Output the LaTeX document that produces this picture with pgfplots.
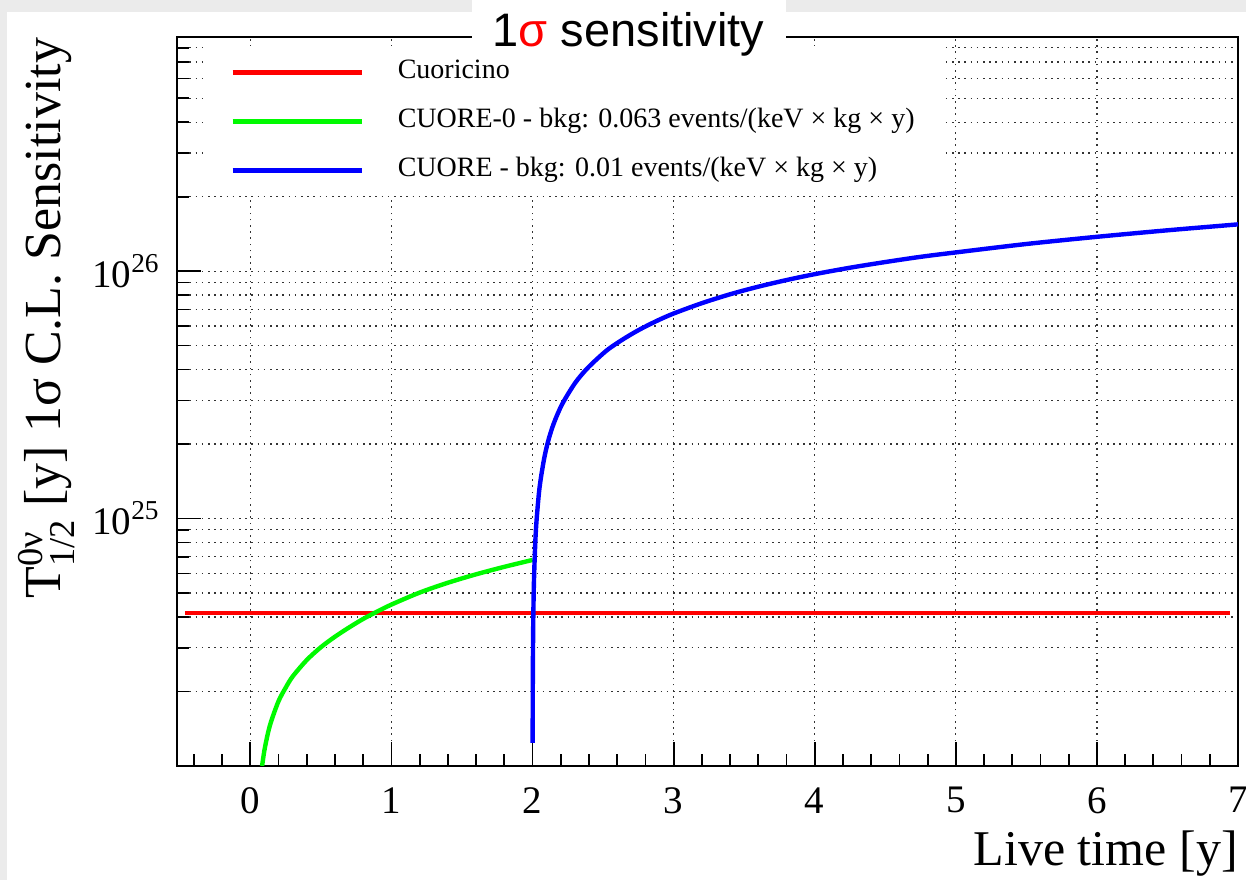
\documentclass[border=0pt]{standalone}
\usepackage{pgfplots}
\pgfplotsset{compat=1.18}
\usepackage{amsmath}
\usepackage{fontspec}
\setmainfont{Liberation Serif}
\newfontfamily\titlefont{Liberation Sans}
\definecolor{slidegray}{RGB}{235,235,235}
\definecolor{rootred}{RGB}{255,0,0}
\definecolor{rootgreen}{RGB}{0,250,0}
\definecolor{rootblue}{RGB}{0,0,255}

\begin{document}
\begin{tikzpicture}
% slide background
\fill[slidegray] (0,0) rectangle (623pt,440pt);
\fill[white] (3.5pt,0) rectangle (623pt,434pt);
\begin{axis}[
	at={(88.5pt,57pt)}, anchor=south west,
	width=530.5pt, height=364.25pt, scale only axis,
	ymode=log,
	xmin=-0.52, xmax=7, ymin=1e24, ymax=8.8e26,
	axis line style={line width=1pt},
	tick pos=left, tick align=inside,
	major tick length=12pt, minor tick length=6pt,
	every tick/.style={black, line width=0.9pt},
	xtick={0,1,2,3,4,5,6,7},
	minor xtick={-0.4,-0.2,0.2,0.4,0.6,0.8,1.2,1.4,1.6,1.8,2.2,2.4,2.6,2.8,3.2,3.4,3.6,3.8,4.2,4.4,4.6,4.8,5.2,5.4,5.6,5.8,6.2,6.4,6.6,6.8},
	ytick={1e24,1e25,1e26},
	yticklabels={,10\textsuperscript{25},10\textsuperscript{26}},
	minor ytick={2e24,3e24,4e24,5e24,6e24,7e24,8e24,9e24,2e25,3e25,4e25,5e25,6e25,7e25,8e25,9e25,2e26,3e26,4e26,5e26,6e26,7e26,8e26},
	xmajorgrids, ymajorgrids, yminorgrids,
	grid style={black!80, line width=0.6pt, dash pattern=on 0.8pt off 2.3pt},
	minor grid style={black!80, line width=0.6pt, dash pattern=on 0.8pt off 2.3pt},
	/pgf/number format/assume math mode=true,
	tick label style={font=\fontsize{19.5}{22}\selectfont},
	xticklabel style={inner sep=0pt, yshift=-10.5pt},
	yticklabel style={inner sep=0pt, xshift=-8.5pt},
	xlabel={Live time [y]},
	ylabel={T$^{\text{0ν}}_{\text{1/2}}$ [y] 1σ C.L. Sensitivity},
	every axis x label/.style={at={(rel axis cs:1,0)}, anchor=north east, inner sep=0pt, yshift=-32pt, font=\fontsize{25}{28}\selectfont},
	every axis y label/.style={at={(rel axis cs:-0.11,1)}, anchor=base east, rotate=90, inner sep=0pt, font=\fontsize{26}{30}\selectfont},
	legend image code/.code={\draw[#1] (0pt,0pt) -- (64.5pt,0pt);},
	legend cell align=left,
	legend style={at={(rel axis cs:0.0254,0.9883)}, anchor=north west,
		draw=none, fill=white, inner xsep=13pt, inner ysep=7pt,
		row sep=12.5pt, column sep=17pt,
		nodes={inner sep=0pt, text height=9pt, text depth=3pt},
		font=\fontsize{14}{16}\selectfont},
]
\addplot[rootred, line width=2.2pt] coordinates {(-0.46,4.15e24) (6.94,4.15e24)};
\addlegendentry{Cuoricino}
\addplot[rootgreen, line width=2.2pt, smooth] coordinates {
	(0.083,1.0e24) (0.1,1.16e24) (0.125,1.36e24) (0.15,1.53e24) (0.2,1.83e24)
	(0.25,2.07e24) (0.3,2.3e24) (0.4,2.68e24) (0.5,3.02e24) (0.6,3.33e24)
	(0.7,3.63e24) (0.8,3.93e24) (0.9,4.21e24) (1.0,4.49e24) (1.2,5.02e24)
	(1.4,5.5e24) (1.6,5.95e24) (1.8,6.38e24) (2.0,6.8e24)};
\addlegendentry{CUORE-0 - bkg: 0.063 events/(keV × kg × y)}
\addplot[rootblue, line width=2.2pt, smooth] coordinates {
	(2.0006,1.24e24) (2.002,2.35e24) (2.005,3.86e24) (2.01,5.6e24) (2.02,8.15e24)
	(2.03,1.01e25) (2.05,1.34e25) (2.08,1.72e25) (2.11,2.05e25) (2.15,2.42e25)
	(2.21,2.9e25) (2.3,3.52e25) (2.38,4.0e25) (2.46,4.43e25) (2.54,4.85e25)
	(2.65,5.34e25) (2.76,5.81e25) (2.88,6.29e25) (3.0,6.74e25) (3.2,7.42e25)
	(3.4,8.06e25) (3.6,8.65e25) (3.8,9.2e25) (4.0,9.72e25) (4.25,1.032e26)
	(4.5,1.088e26) (4.75,1.142e26) (5.0,1.19e26) (5.5,1.287e26) (6.0,1.376e26)
	(6.5,1.462e26) (7.0,1.545e26)};
\addlegendentry{CUORE - bkg: 0.01 events/(keV × kg × y)}
\end{axis}
% slide title box over the frame
\fill[white] (236pt,412.5pt) rectangle (393pt,440pt);
\node[anchor=base, inner sep=0pt, font=\titlefont\fontsize{23.5}{26}\selectfont] at (314.25pt,416.5pt) {1\textcolor{rootred}{σ} sensitivity};
\pgfresetboundingbox
\useasboundingbox (0,0) rectangle (623pt,440pt);
\end{tikzpicture}
\end{document}
